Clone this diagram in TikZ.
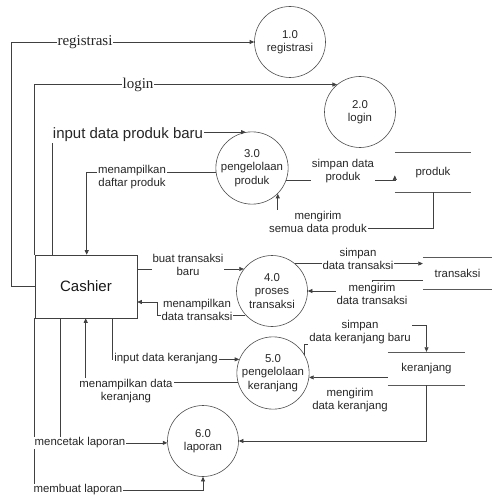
\documentclass[tikz,border=0pt]{standalone}
\usepackage{fontspec}
\setmainfont{Liberation Sans}
\newfontfamily\myserif{Liberation Serif}
\usetikzlibrary{arrows.meta}
\newcommand\mylab{\fontsize{11.4}{13.5}\selectfont}
\newcommand\mybig{\fontsize{15}{17}\selectfont}
\newcommand\myser{\myserif\fontsize{15}{17}\selectfont}
\tikzset{
  proc/.style={circle, draw=black!70, line width=0.6pt, minimum size=71pt, inner sep=0pt, align=center, font=\mylab, text=black!85},
  flow/.style={draw=black!75, line width=0.6pt, -{Triangle[length=4.5pt,width=4pt]}},
  plain/.style={draw=black!65, line width=0.6pt},
  lbl/.style={fill=white, inner sep=1pt, align=center, font=\mylab, text=black!85},
  store/.style={inner sep=0pt, font=\mylab, text=black!85},
}
\begin{document}
\begin{tikzpicture}[x=1pt,y=-1pt]
\useasboundingbox (0,0) rectangle (493,497);
% processes
\node[proc] (c1) at (290,42) {1.0\\registrasi};
\node[proc] (c2) at (360,112) {2.0\\login};
\node[proc] (c3) at (252,168) {3.0\\pengelolaan\\produk};
\node[proc] (c4) at (272,291) {4.0\\proses\\transaksi};
\node[proc] (c5) at (273,373) {5.0\\pengelolaan\\keranjang};
\node[proc] (c6) at (203,441) {6.0\\laporan};
% external entity
\node[draw=black!75, line width=0.6pt, minimum width=102pt, minimum height=63pt, font=\mybig, text=black!90] (cash) at (86,286.5) {Cashier};
% data stores
\node[store, minimum width=76pt, minimum height=39pt] (prod) at (433,172.5) {produk};
\node[store, minimum width=69pt, minimum height=32pt] (trx) at (457.5,273) {transaksi};
\node[store, minimum width=77pt, minimum height=33pt] (kr) at (426.5,368.5) {keranjang};
\foreach \s in {prod,trx,kr}{
  \draw[plain] (\s.north west) -- (\s.north east);
  \draw[plain] (\s.south west) -- (\s.south east);
}
% flows
\draw[flow] (cash.west) -- ++(-23,0) |- (c1.west);
\draw[flow] (cash.north west) |- (c2.130);
\draw[flow] ([xshift=18pt]cash.north west) |- (c3.100);
\draw[flow] (c3.187) -| ([xshift=52pt]cash.north west);
\draw[flow] (c3.-20) -- (c3.-20 -| prod.west) -- ++(0,-5);
\draw[flow] (prod.south) -- ++(0,36) -| (c3.-45);
\draw[flow] (cash.east |- c4.142) -- (c4.142);
\draw[flow] (c4.222) -| ([xshift=20pt,yshift=-15.5pt]cash.east) -- ([yshift=-15.5pt]cash.east);
\draw[flow] (c4.50) -- (trx.west |- c4.50);
\draw[flow] ([yshift=-7pt]trx.west) -- ++(-51,0) |- (c4.east);
\draw[flow] ([xshift=-25pt]cash.south east) |- (c5.158);
\draw[flow] (c5.195) -| ([xshift=51pt]cash.south west);
\coordinate (skbc) at (360,332);
\draw[flow] (c5.30) |- ([yshift=-12pt]skbc) |- ([yshift=7pt]skbc) -| (kr.north);
\draw[flow] (kr.west |- c5.-7) -- (c5.-7);
\draw[flow] (kr.south) |- (c6.east);
\draw[flow] ([xshift=26pt]cash.south west) |- (c6.183);
\draw[flow] (cash.south west) |- ([yshift=-13.5pt]c6.south) -- (c6.south);
% labels
\node[lbl, font=\myser] (lreg) at (85,42) {registrasi};
\node[lbl, font=\myser] (llog) at (138,85) {login};
\node[lbl, font=\mybig] (lipb) at (128,135) {input data produk baru};
\node[lbl] (lmdp) at (132,177) {menampilkan\\daftar produk};
\node[lbl] (lsdp) at (343,171) {simpan data\\produk};
\node[lbl] (lmsdp) at (318,223) {mengirim\\semua data produk};
\node[lbl] (lbtb) at (188,265) {buat transaksi\\baru};
\node[lbl] (lmdt) at (197,310) {menampilkan\\data transaksi};
\node[lbl] (lsdt) at (358,259) {simpan\\data transaksi};
\node[lbl] (lmdt2) at (372,294) {mengirim\\data transaksi};
\node[lbl] (lidk) at (166,359) {input data keranjang};
\node[lbl] (lmdk) at (126,391) {menampilkan data\\keranjang};
\node[lbl] (lskb) at (skbc) {simpan\\data keranjang baru};
\node[lbl] (lmdk2) at (350,400) {mengirim\\data keranjang};
\node[lbl] (lmcl) at (80,443) {mencetak laporan};
\node[lbl] (lmbl) at (78,490) {membuat laporan};
\end{tikzpicture}
\end{document}
